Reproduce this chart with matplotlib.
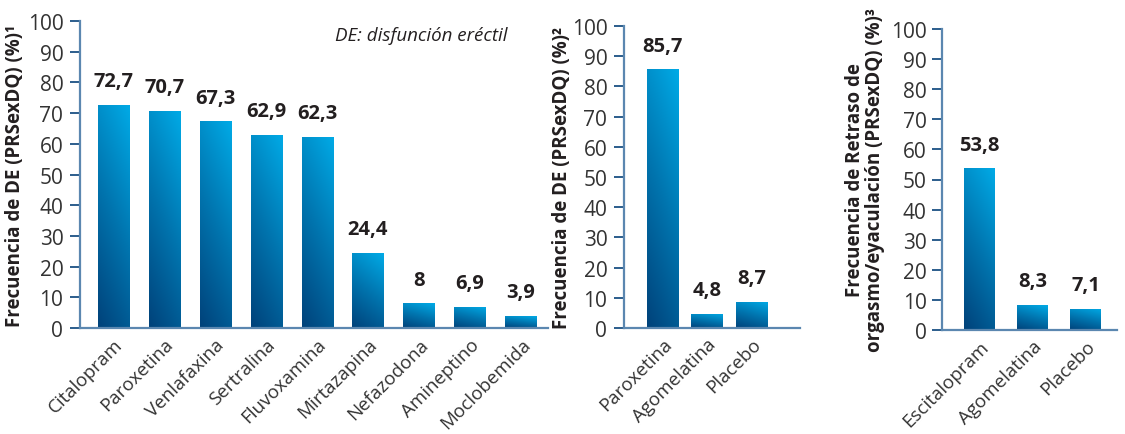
import numpy as np
import matplotlib
matplotlib.use('Agg')
from matplotlib import pyplot as plt
from matplotlib.colors import LinearSegmentedColormap

# data
drugs_1 = ['Citalopram', 'Paroxetina', 'Venlafaxina', 'Sertralina', 'Fluvoxamina',
           'Mirtazapina', 'Nefazodona', 'Amineptino', 'Moclobemida']
vals_1 = [72.7, 70.7, 67.3, 62.9, 62.3, 24.4, 8, 6.9, 3.9]
labels_1 = ['72,7', '70,7', '67,3', '62,9', '62,3', '24,4', '8', '6,9', '3,9']

drugs_2 = ['Paroxetina', 'Agomelatina', 'Placebo']
vals_2 = [85.7, 4.8, 8.7]
labels_2 = ['85,7', '4,8', '8,7']

drugs_3 = ['Escitalopram', 'Agomelatina', 'Placebo']
vals_3 = [53.8, 8.3, 7.1]
labels_3 = ['53,8', '8,3', '7,1']

yticks = [0, 10, 20, 30, 40, 50, 60, 70, 80, 90, 100]

plt.rcParams['font.family'] = ['Open Sans', 'DejaVu Sans']

W, H = 1125, 435
TEXT = '#231f20'
SPINE = '#5b87b0'
TICK = '#2b5d8c'
cmap = LinearSegmentedColormap.from_list('bar', ['#00427a', '#0074ae', '#00aae6'])


def px_axes(fig, left, right, top, bottom):
    return fig.add_axes([left / W, (H - bottom) / H, (right - left) / W, (bottom - top) / H])


def panel(ax, names, vals, labels, width, xlim, ylabel, tickpad, ylabel_pad):
    bars = ax.bar(range(len(vals)), vals, width=width, color='none', edgecolor='none')
    u, v = np.meshgrid(np.linspace(0, 1, 40), np.linspace(0, 1, 80))
    grad = np.clip(0.75 * v + 0.25 * u, 0, 1)
    for b, lab in zip(bars, labels):
        x0, w, h = b.get_x(), b.get_width(), b.get_height()
        im = ax.imshow(grad, cmap=cmap, extent=(x0, x0 + w, 0, h), origin='lower',
                       aspect='auto', interpolation='bilinear', zorder=2)
        im.set_clip_path(b)
        ax.text(x0 + w / 2, h + 4.5, lab, ha='center', va='bottom',
                fontsize=14.5, fontweight='bold', color=TEXT)
    ax.set_xlim(*xlim)
    ax.set_ylim(0, 100)
    ax.set_yticks(yticks)
    ax.set_xticks(range(len(vals)))
    ax.set_xticklabels(names, rotation=45, ha='right', rotation_mode='anchor')
    ax.tick_params(axis='x', length=0, pad=5, labelsize=13.5, labelcolor='#333333')
    ax.tick_params(axis='y', direction='out', length=7, width=1.4, color=TICK,
                   pad=tickpad, labelsize=15, labelcolor='#333333')
    for s in ['top', 'right']:
        ax.spines[s].set_visible(False)
    for s in ['left', 'bottom']:
        ax.spines[s].set_color(SPINE)
        ax.spines[s].set_linewidth(1.6)
    ax.set_ylabel(ylabel, fontsize=13.5, fontweight='bold', color=TEXT,
                  labelpad=ylabel_pad, linespacing=1.05)


fig = plt.figure(figsize=(W / 100, H / 100), dpi=100)

ax1 = px_axes(fig, 80, 548, 22, 329)
panel(ax1, drugs_1, vals_1, labels_1, 0.61, (-0.65, 8.53),
      'Frecuencia de DE (PRSexDQ) (%)¹', 5, 2)
ax1.text(0.545, 0.955, 'DE: disfunción eréctil', transform=ax1.transAxes,
         fontsize=13.5, fontstyle='italic', color=TEXT, ha='left', va='center')

ax2 = px_axes(fig, 624, 800, 27, 329)
panel(ax2, drugs_2, vals_2, labels_2, 0.7, (-0.865, 3.09),
      'Frecuencia de DE (PRSexDQ) (%)²', 5, 0)

ax3 = px_axes(fig, 942, 1117, 30, 331)
panel(ax3, drugs_3, vals_3, labels_3, 0.585, (-0.71, 2.594),
      'Frecuencia de Retraso de\norgasmo/eyaculación (PRSexDQ) (%)³', 4, 4)

fig.savefig('out.png', dpi=100)
